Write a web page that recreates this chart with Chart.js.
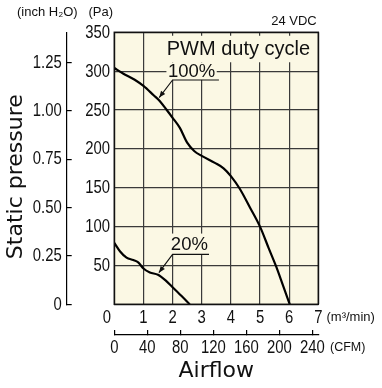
<!DOCTYPE html>
<html>
<head>
<meta charset="utf-8">
<style>
  html, body { margin: 0; padding: 0; background: #fff; }
</style>
<script src="https://cdn.jsdelivr.net/npm/chart.js@4"></script>
</head>
<body>
<canvas id="chart" width="382" height="388"></canvas>
<script>
// Airflow (m3/min) vs static pressure (Pa)
const flow100 = [0, 0.3, 0.7, 1.0, 1.35, 1.55, 1.8, 2.0, 2.25, 2.5, 2.75, 3.0, 3.45, 3.75, 4.0, 4.3, 4.65, 5.0, 5.3, 5.55, 5.8, 6.02];
const pa100   = [304, 297, 289, 281, 269, 262, 250, 240, 227, 208, 197, 191, 182, 175, 165, 149, 125, 100, 72, 49, 23, 0];
const flow20  = [0, 0.2, 0.42, 0.65, 0.82, 1.0, 1.22, 1.5, 1.75, 2.0, 2.3, 2.59];
const pa20    = [79, 68, 60, 57, 54, 46, 41, 38, 31, 22, 11, 0];

// Tick values
const flowTicks = [0, 1, 2, 3, 4, 5, 6, 7];
const cfmTicks  = [0, 40, 80, 120, 160, 200, 240];
const paTicks   = [0, 50, 100, 150, 200, 250, 300, 350];
const inchTicks = [0, 0.25, 0.5, 0.75, 1.0, 1.25];

const PA_PER_INCH = 249.089;
const CFM_PER_M3 = 35.3147;

const plainFont = "'Liberation Sans', Arial, sans-serif";
const NARROW = 0.85; // the tick numbers are set in a condensed face

// Curve labels (data units) and leader lines
const curveLabels = [
  { text: 'PWM duty cycle', x: 1.8, y: 328.5, size: 20, boxH: 26.5 },
  { text: '100%', x: 1.84, y: 300, size: 18.5, boxH: 17.5 },
  { text: '20%', x: 1.94, y: 77.5, size: 18.5, boxH: 21 },
];
const leaders = [
  { from: [2.0, 288.6], tip: [1.54, 266], lineEnd: 3.59 },
  { from: [2.0, 64.3], tip: [1.53, 40.7], lineEnd: 3.25 },
];

const toPts = (xs, ys) => xs.map((v, i) => ({ x: v, y: ys[i] }));
const setTicks = arr => s => { s.ticks = arr.map(v => ({ value: v })); };

// tick label text per axis
const fmt = {
  x: v => String(v),
  x2: v => String(v),
  y: v => v === 0 ? '' : String(v),
  y2: v => v === 0 ? '0' : v.toFixed(2),
};

function narrowText(ctx, text, px, py) {
  ctx.save();
  ctx.translate(px, py);
  ctx.scale(NARROW, 1);
  ctx.fillText(text, 0, 0);
  ctx.restore();
}

const overlay = {
  id: 'overlay',
  beforeDraw(c) {
    const { ctx, chartArea: a } = c;
    ctx.save();
    ctx.fillStyle = '#fbf8e4';
    ctx.fillRect(a.left, a.top, a.right - a.left, a.bottom - a.top);
    ctx.restore();
  },
  afterDraw(c) {
    const { ctx, chartArea: a, scales } = c;
    const { x, y } = scales;
    ctx.save();
    // plot frame
    ctx.strokeStyle = '#111';
    ctx.lineWidth = 1.5;
    ctx.strokeRect(a.left, a.top, a.right - a.left, a.bottom - a.top);

    // tick numbers, placed by the scales
    ctx.fillStyle = '#111';
    ctx.font = '17.5px ' + plainFont;
    ctx.textBaseline = 'middle';
    ctx.textAlign = 'right';
    scales.y.ticks.forEach(t => narrowText(ctx, fmt.y(t.value), scales.y.right - 4.3, scales.y.getPixelForValue(t.value) + 0.8));
    scales.y2.ticks.forEach(t => narrowText(ctx, fmt.y2(t.value), scales.y2.right - 5, scales.y2.getPixelForValue(t.value) + 0.5));
    ctx.textAlign = 'center';
    scales.x.ticks.forEach(t => {
      const px = scales.x.getPixelForValue(t.value) - (t.value === 0 ? 7.5 : 0);
      narrowText(ctx, fmt.x(t.value), px, scales.x.top + 13.5);
    });
    scales.x2.ticks.forEach(t => narrowText(ctx, fmt.x2(t.value), scales.x2.getPixelForValue(t.value), scales.x2.top + 13.5));

    // labels sitting on a cream box that hides the grid
    ctx.textAlign = 'left';
    curveLabels.forEach(l => {
      ctx.font = l.size + 'px ' + plainFont;
      const px = x.getPixelForValue(l.x);
      const py = y.getPixelForValue(l.y);
      const w = ctx.measureText(l.text).width;
      ctx.fillStyle = '#fbf8e4';
      ctx.fillRect(px - 1.5, py - l.boxH / 2, w + 3, l.boxH);
      ctx.fillStyle = '#111';
      ctx.fillText(l.text, px, py + 0.5);
    });

    // leader lines with arrowheads
    ctx.strokeStyle = '#111';
    ctx.fillStyle = '#111';
    ctx.lineWidth = 1.1;
    leaders.forEach(l => {
      const x0 = x.getPixelForValue(l.from[0]), y0 = y.getPixelForValue(l.from[1]);
      const x1 = x.getPixelForValue(l.tip[0]), y1 = y.getPixelForValue(l.tip[1]);
      const xe = x.getPixelForValue(l.lineEnd);
      ctx.beginPath();
      ctx.moveTo(xe, y0);
      ctx.lineTo(x0, y0);
      ctx.lineTo(x1, y1);
      ctx.stroke();
      const ang = Math.atan2(y1 - y0, x1 - x0);
      const len = 6.5, hw = 2.6;
      ctx.beginPath();
      ctx.moveTo(x1, y1);
      ctx.lineTo(x1 - len * Math.cos(ang) + hw * Math.sin(ang), y1 - len * Math.sin(ang) - hw * Math.cos(ang));
      ctx.lineTo(x1 - len * Math.cos(ang) - hw * Math.sin(ang), y1 - len * Math.sin(ang) + hw * Math.cos(ang));
      ctx.closePath();
      ctx.fill();
    });

    // unit captions
    ctx.fillStyle = '#111';
    ctx.font = '13px ' + plainFont;
    ctx.fillText('(inch H\u2082O)', 17, 12.5);
    ctx.fillText('(Pa)', 88.5, 12.5);
    ctx.fillText('(m\u00b3/min)', 326.5, 317.5);
    ctx.font = '12.5px ' + plainFont;
    ctx.fillText('(CFM)', 330, 348);
    ctx.font = '13px ' + plainFont;
    ctx.textAlign = 'right';
    ctx.fillText('24 VDC', 316.7, 21.7);

    // y title
    ctx.translate(16.3, 176.7);
    ctx.rotate(-Math.PI / 2);
    ctx.textAlign = 'center';
    ctx.font = "22px 'DejaVu Sans', sans-serif";
    ctx.fillText('Static pressure', 0, 0);
    ctx.restore();
  }
};

new Chart(document.getElementById('chart'), {
  type: 'line',
  data: {
    datasets: [
      {
        data: toPts(flow100, pa100),
        borderColor: '#000', borderWidth: 2.2, pointRadius: 0,
        cubicInterpolationMode: 'monotone', fill: false,
        xAxisID: 'x', yAxisID: 'y',
      },
      {
        data: toPts(flow20, pa20),
        borderColor: '#000', borderWidth: 2.2, pointRadius: 0,
        cubicInterpolationMode: 'monotone', fill: false,
        xAxisID: 'x', yAxisID: 'y',
      },
    ],
  },
  options: {
    responsive: false,
    animation: false,
    layout: { padding: { top: 32.3, right: 63.7, left: 0, bottom: 0 } },
    plugins: { legend: { display: false }, tooltip: { enabled: false } },
    scales: {
      x: {
        type: 'linear', position: 'bottom', weight: 0, min: 0, max: 7,
        afterBuildTicks: setTicks(flowTicks),
        afterFit: s => { s.height = 30.7; },
        grid: { color: '#3a3a3a', lineWidth: 1.2, drawTicks: false },
        border: { display: false },
        ticks: { display: false },
      },
      x2: {
        type: 'linear', position: 'bottom', weight: 1, min: 0, max: 7 * CFM_PER_M3,
        afterBuildTicks: setTicks(cfmTicks),
        afterFit: s => { s.height = 53; },
        grid: { drawOnChartArea: false, drawTicks: true, tickLength: -5, color: '#000', lineWidth: 1.2 },
        border: { display: true, color: '#000', width: 1.2 },
        ticks: { display: false },
        title: {
          display: true, text: 'Airflow', color: '#111',
          font: { family: "'DejaVu Sans', sans-serif", size: 22 },
          padding: { top: 0, bottom: 3.8 },
        },
      },
      y: {
        type: 'linear', position: 'left', weight: 0, min: 0, max: 350,
        afterBuildTicks: setTicks(paTicks),
        afterFit: s => { s.width = 47.6; },
        grid: { color: '#3a3a3a', lineWidth: 1.2, drawTicks: false },
        border: { display: false },
        ticks: { display: false },
      },
      y2: {
        type: 'linear', position: 'left', weight: 1, min: 0, max: 350 / PA_PER_INCH,
        afterBuildTicks: setTicks(inchTicks),
        afterFit: s => { s.width = 66.7; },
        grid: { drawOnChartArea: false, drawTicks: true, tickLength: -5, color: '#000', lineWidth: 1.2 },
        border: { display: true, color: '#000', width: 1.2 },
        ticks: { display: false },
      },
    },
  },
  plugins: [overlay],
});
</script>
</body>
</html>
